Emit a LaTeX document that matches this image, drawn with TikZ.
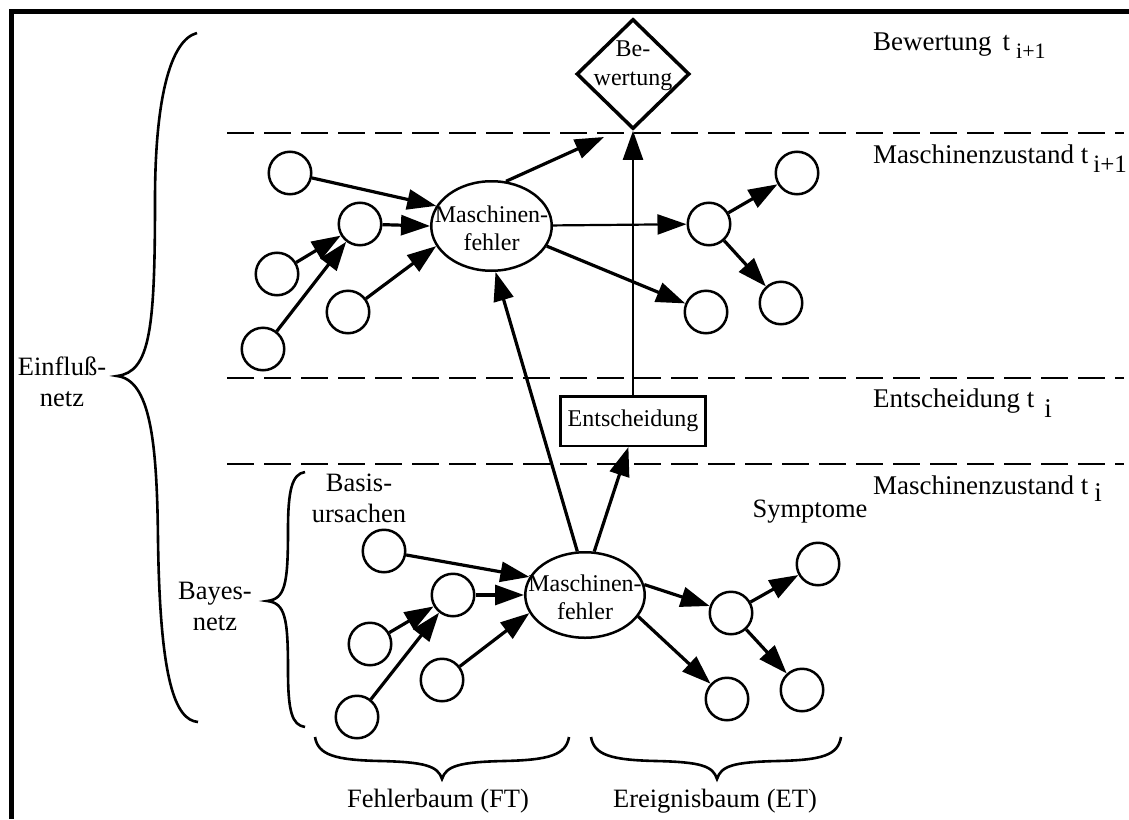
\documentclass[tikz,border=0pt]{standalone}
\usepackage{fontspec}
\setmainfont{Liberation Serif}
\usetikzlibrary{arrows.meta,shapes.geometric,positioning,calc}

% text centred in a node without widening its shape
\newcommand{\mitte}[2]{\makebox[0pt]{\raisebox{#1}[0pt][0pt]{\begin{tabular}[t]{@{}c@{}}#2\end{tabular}}}}
\newcommand{\tief}[2]{\raisebox{-#1}{#2}}

\begin{document}
\begin{tikzpicture}[
  x=1pt, y=-1pt,
  every node/.style={font=\fontsize{24}{30}\selectfont},
  circ/.style={draw, circle, line width=2.5pt, minimum size=42.5pt, inner sep=0pt},
  fehler/.style={draw, ellipse, line width=2.5pt, inner sep=0pt,
                 font=\fontsize{24}{28}\selectfont},
  entbox/.style={draw, rectangle, line width=2.5pt, inner sep=0pt,
                 minimum width=145pt, minimum height=49.5pt},
  bewdia/.style={draw, diamond, line width=3.5pt, inner sep=0pt,
                 minimum width=113pt, minimum height=110pt,
                 font=\fontsize{24}{29}\selectfont},
  lbl/.style={align=center, inner sep=0pt, font=\fontsize{26.5}{31}\selectfont},
  zeit/.style={font=\fontsize{27}{30}\selectfont, anchor=base west, inner sep=0pt},
  arr/.style={-{Triangle[length=29pt,width=20pt]}, line width=3.2pt},
  tarr/.style={arr, line width=2.2pt},
  trenn/.style={dash pattern=on 27pt off 10pt, line width=2.7pt},
  klammer/.style={line width=2.6pt},
]
\useasboundingbox (0,0) rectangle (1129,819);

%% ---- frame ----
\draw[line width=5pt] (1129,11) -- (11,11) -- (11,819);

%% ---- time slices ----
\draw[trenn] (227,133) -- (1124,133);
\draw[trenn] (227,378) -- (1124,378);
\draw[trenn] (227,464) -- (1124,464);

\node[zeit] (zbew) at (873,50)  {Bewertung\hspace{11pt}t\hspace{6pt}{\fontsize{22}{22}\selectfont\tief{8pt}{i+1}}};
\node[zeit] (zmo)  at (873,163) {Maschinenzustand t\hspace{5pt}{\fontsize{25}{25}\selectfont\tief{9pt}{i+1}}};
\node[zeit] (zent) at (873,407) {Entscheidung t\hspace{10pt}\tief{10pt}{i}};
\node[zeit] (zmu)  at (873,494) {Maschinenzustand t\hspace{6pt}\tief{7pt}{i}};

%% ---- decision / value ----
\node[bewdia] (bew) at (633,74) {\mitte{18pt}{Be-\\wertung}};
\node[entbox] (ent) at (633,421) {Entscheidung};

%% ---- machine state t_{i+1} ----
\node[fehler, minimum width=120.5pt, minimum height=89.5pt] (mfo) at (491.5,226)
  {\mitte{4pt}{Maschinen-\\fehler}};

\node[circ] (fo1) at (290,173) {};
\node[circ] (fo2) at (360,224) {};
\node[circ] (fo3) at (277,274) {};
\node[circ] (fo4) at (348,312) {};
\node[circ] (fo5) at (263,349) {};

\node[circ] (eo1) at (709,224) {};
\node[circ] (eo2) at (797,173) {};
\node[circ] (eo3) at (706,312) {};
\node[circ] (eo4) at (781,303) {};

%% ---- machine state t_i ----
\node[fehler, minimum width=119.5pt, minimum height=85.5pt] (mfu) at (585,595)
  {\mitte{4pt}{Maschinen-\\fehler}};

\node[circ] (fu1) at (384,551) {};
\node[circ] (fu2) at (453,595) {};
\node[circ] (fu3) at (370,644) {};
\node[circ] (fu4) at (442,680) {};
\node[circ] (fu5) at (357,717) {};

\node[circ] (eu1) at (818,564) {};
\node[circ] (eu2) at (731,613) {};
\node[circ] (eu3) at (727,699) {};
\node[circ] (eu4) at (802,690) {};

\node[lbl] (basis) at (359,498) {Basis-\\ursachen};
\node[lbl] (sym)   at (810,512) {Symptome};

%% ---- arrows, upper net ----
\coordinate (bewein) at (604,137);
\draw[arr] (fo1) -- (mfo.160);
\draw[arr] (fo2) -- (mfo.west);
\draw[arr] (fo4) -- (mfo.200);
\draw[arr] (fo3) -- (fo2);
\draw[arr] (fo5) -- (fo2);
\draw[arr] (mfo.72) -- (bewein);
\draw[tarr] (mfo) -- (eo1);
\draw[arr] (mfo.-20) -- (eo3);
\draw[arr] (eo1) -- (eo2);
\draw[arr] (eo1) -- (eo4);

%% ---- arrows, lower net ----
\draw[arr] (fu1) -- (mfu.162);
\draw[arr] (fu2) -- (mfu.west);
\draw[arr] (fu4) -- (mfu.198);
\draw[arr] (fu3) -- (fu2);
\draw[arr] (fu5) -- (fu2);
\draw[arr] (mfu.10) -- (eu2);
\draw[arr] (mfu.-22) -- (eu3);
\draw[arr] (eu2) -- (eu1);
\draw[arr] (eu2) -- (eu4);

%% ---- arrows between slices ----
\draw[arr] (mfu.100) -- (mfo.-85);
\draw[arr] (mfu.78) -- (ent.-100);
\draw[tarr] (ent.north) -- (bew.south);

%% ---- braces ----
\draw[klammer] (197,33) .. controls (170,40) and (155,100) .. (155,200)
  .. controls (155,330) and (150,372) .. (117,376)
  .. controls (150,380) and (157,440) .. (158,540)
  .. controls (160,680) and (175,720) .. (198,722);
\draw[klammer] (305,472) .. controls (292,474) and (288,490) .. (288,530)
  .. controls (288,585) and (285,599) .. (267,601)
  .. controls (285,603) and (288,617) .. (288,670)
  .. controls (288,712) and (292,725) .. (305,727);
\draw[klammer] (315,737) .. controls (318,755) and (335,760) .. (380,761)
  .. controls (425,762) and (438,766) .. (442,779)
  .. controls (446,766) and (459,762) .. (504,761)
  .. controls (549,760) and (566,755) .. (569,737);
\draw[klammer] (591,737) .. controls (594,755) and (611,760) .. (656,761)
  .. controls (701,762) and (713,766) .. (717,779)
  .. controls (721,766) and (733,762) .. (778,761)
  .. controls (823,760) and (838,755) .. (841,737);

\node[lbl] (einfl) at (62,382)  {Einfluß-\\netz};
\node[lbl] (bayes) at (215,606) {Bayes-\\netz};
\node[lbl] (ftree) at (438,801) {Fehlerbaum (FT)};
\node[lbl] (etree) at (715,801) {Ereignisbaum (ET)};
\end{tikzpicture}
\end{document}
